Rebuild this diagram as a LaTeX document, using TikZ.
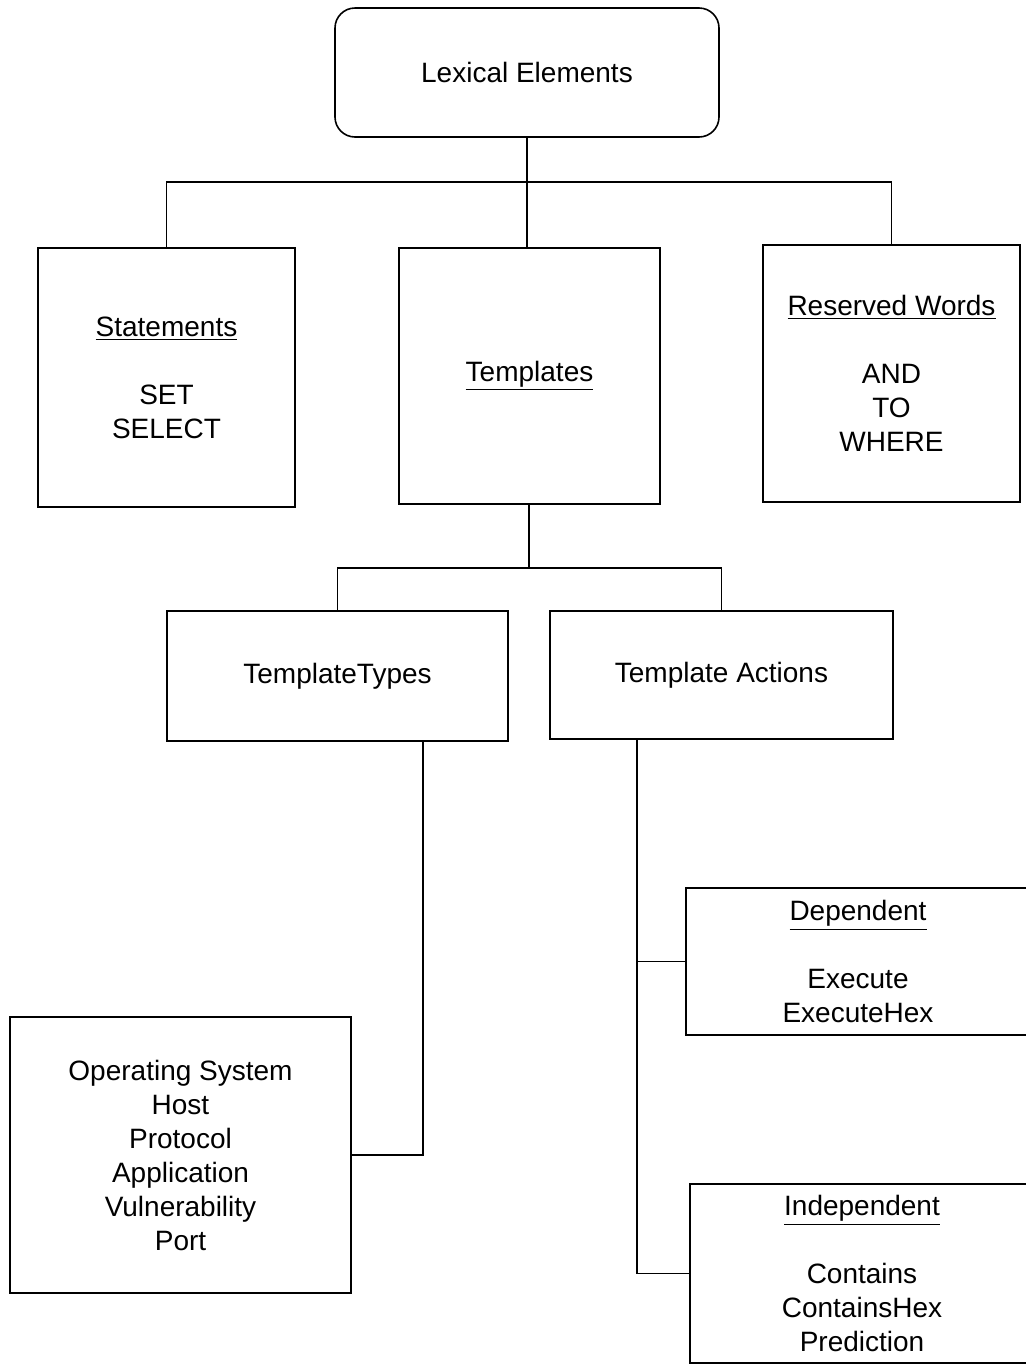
\documentclass[tikz,border=0pt]{standalone}
\usepackage{fontspec}
\setmainfont{Liberation Sans}
\usetikzlibrary{positioning}

\begin{document}
\begin{tikzpicture}[x=0.5pt, y=-0.5pt, line width=0.8pt,
        every node/.style={draw, line width=0.8pt, inner sep=0pt, outer sep=0pt, align=center, font=\fontsize{14}{17}\selectfont},
        box/.style 2 args={minimum width=#1, minimum height=#2}]
        \useasboundingbox (0,0) rectangle (1025,1366);

        \node[box={192pt}{64.5pt}, rounded corners=10pt] (lexical) at (527,72.5) {Lexical Elements};

        \node[box={128.5pt}{129.5pt}] (statements) at (166.5,377.5) {\underline{Statements}\\[17pt] SET\\ SELECT};
        \node[box={130.5pt}{128pt}] (templates) at (529.5,376) {\underline{Templates}};
        \node[box={128.5pt}{128.5pt}] (reserved) at (891.5,373.5) {\underline{Reserved Words}\\[17pt] AND\\ TO\\ WHERE};

        \node[box={170.5pt}{65pt}] (types) at (337.5,676) {TemplateTypes};
        \node[box={171.5pt}{64pt}] (actions) at (721.5,675) {Template Actions};

        \node[box={170.5pt}{138pt}] (typelist) at (180.5,1155) {Operating System\\ Host\\ Protocol\\ Application\\ Vulnerability\\ Port};
        \node[box={172pt}{73.5pt}] (dependent) at (858,961.5) {\underline{Dependent}\\[17pt] Execute\\ ExecuteHex};
        \node[box={172pt}{89.5pt}] (independent) at (862,1273.5) {\underline{Independent}\\[17pt] Contains\\ ContainsHex\\ Prediction};

        \coordinate (top split) at (527,182);
        \coordinate (mid split) at (529,568);
        \coordinate (types port) at (423,741);
        \coordinate (actions port) at (637,739);

        \draw (lexical.south) -- (top split);
        \draw (statements.north) |- (top split) -| (reserved.north);
        \draw (top split) -- (templates.north -| top split);
        \draw (templates.south -| mid split) -- (mid split);
        \draw (types.north) |- (mid split) -| (actions.north);
        \draw (types port) |- (typelist.east);
        \draw (actions port) |- (independent.west);
        \draw (dependent.west) -- (dependent.west -| actions port);
\end{tikzpicture}
\end{document}
